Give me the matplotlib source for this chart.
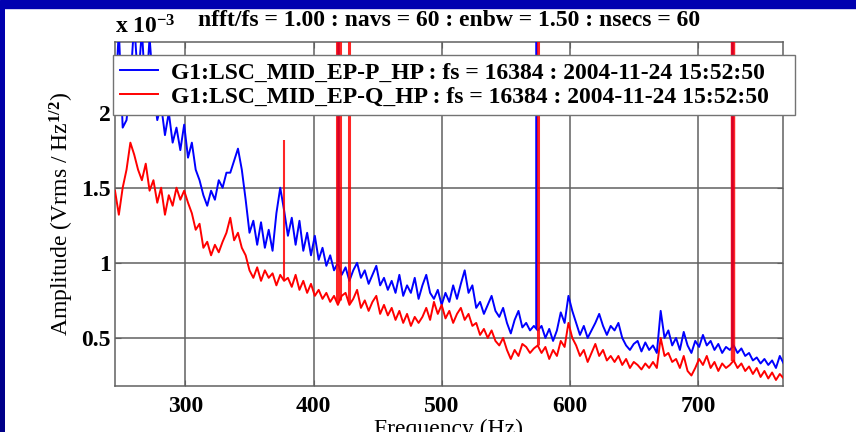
import numpy as np
import matplotlib
matplotlib.use("Agg")
import matplotlib.pyplot as plt
from matplotlib.patches import Rectangle

# ---------------- data (amplitude in units of 1e-3 Vrms/sqrt(Hz)) ----------------
freq_start, freq_stop, freq_step = 245, 767, 3
freq = np.arange(freq_start, freq_stop + 1, freq_step)

p_amp = [
    2.05, 2.55, 1.90, 1.95, 2.20, 2.60, 2.20, 2.55, 2.10, 2.50,   # 245-272
    2.15, 1.95, 2.05, 1.85, 2.00, 1.80, 1.90, 1.75, 1.92, 1.70,   # 275-302
    1.80, 1.62, 1.55, 1.45, 1.38, 1.48, 1.42, 1.55, 1.50, 1.60,   # 305-332
    1.60, 1.68, 1.76, 1.62, 1.42, 1.20, 1.28, 1.12, 1.27, 1.10,   # 335-362
    1.22, 1.08, 1.33, 1.50, 1.35, 1.18, 1.30, 1.12, 1.28, 1.08,   # 365-392
    1.20, 1.05, 1.18, 1.02, 1.10, 0.98, 1.05, 0.95, 1.00, 0.92,   # 395-422
    0.97, 0.88, 0.95, 1.00, 0.90, 0.95, 0.86, 0.92, 0.98, 0.85,   # 425-452
    0.90, 0.82, 0.88, 0.80, 0.92, 0.78, 0.85, 0.80, 0.90, 0.76,   # 455-482
    0.85, 0.92, 0.80, 0.76, 0.82, 0.72, 0.80, 0.74, 0.85, 0.76,   # 485-512
    0.86, 0.95, 0.80, 0.85, 0.70, 0.74, 0.66, 0.72, 0.78, 0.68,   # 515-542
    0.64, 0.70, 0.60, 0.53, 0.62, 0.68, 0.57, 0.60, 0.55, 0.58,   # 545-572
    0.55, 0.58, 0.50, 0.56, 0.48, 0.55, 0.67, 0.60, 0.78, 0.68,   # 575-602
    0.60, 0.52, 0.58, 0.50, 0.55, 0.60, 0.66, 0.58, 0.52, 0.58,   # 605-632
    0.55, 0.60, 0.50, 0.45, 0.42, 0.46, 0.48, 0.41, 0.47, 0.42,   # 635-662
    0.45, 0.40, 0.68, 0.50, 0.55, 0.45, 0.50, 0.42, 0.54, 0.45,   # 665-692
    0.40, 0.48, 0.44, 0.52, 0.45, 0.48, 0.42, 0.46, 0.40, 0.44,   # 695-722
    0.42, 0.45, 0.40, 0.43, 0.38, 0.40, 0.35, 0.37, 0.33, 0.36,   # 725-752
    0.32, 0.35, 0.30, 0.38, 0.33,                                 # 755-767
]

q_amp = [
    1.48, 1.32, 1.50, 1.62, 1.80, 1.72, 1.62, 1.55, 1.66, 1.48,   # 245-272
    1.55, 1.40, 1.50, 1.32, 1.45, 1.38, 1.50, 1.42, 1.48, 1.40,   # 275-302
    1.33, 1.22, 1.26, 1.10, 1.14, 1.05, 1.12, 1.07, 1.14, 1.20,   # 305-332
    1.30, 1.15, 1.20, 1.10, 1.05, 0.95, 0.90, 0.97, 0.88, 0.95,   # 335-362
    0.90, 0.93, 0.85, 0.92, 0.88, 0.90, 0.84, 0.92, 0.82, 0.88,   # 365-392
    0.80, 0.86, 0.78, 0.82, 0.76, 0.80, 0.74, 0.78, 0.72, 0.78,   # 395-422
    0.80, 0.72, 0.76, 0.82, 0.70, 0.75, 0.68, 0.74, 0.78, 0.66,   # 425-452
    0.72, 0.65, 0.70, 0.62, 0.68, 0.60, 0.66, 0.58, 0.64, 0.60,   # 455-482
    0.64, 0.70, 0.62, 0.74, 0.66, 0.72, 0.63, 0.68, 0.60, 0.66,   # 485-512
    0.70, 0.62, 0.66, 0.58, 0.60, 0.52, 0.56, 0.50, 0.55, 0.48,   # 515-542
    0.45, 0.50, 0.42, 0.36, 0.42, 0.38, 0.46, 0.44, 0.40, 0.43,   # 545-572
    0.45, 0.40, 0.44, 0.36, 0.42, 0.38, 0.48, 0.44, 0.60, 0.50,   # 575-602
    0.45, 0.38, 0.42, 0.34, 0.40, 0.46, 0.38, 0.42, 0.35, 0.38,   # 605-632
    0.34, 0.38, 0.32, 0.36, 0.30, 0.34, 0.32, 0.29, 0.33, 0.30,   # 635-662
    0.34, 0.30, 0.50, 0.38, 0.40, 0.34, 0.36, 0.30, 0.38, 0.28,   # 665-692
    0.25, 0.30, 0.36, 0.32, 0.38, 0.30, 0.34, 0.28, 0.33, 0.30,   # 695-722
    0.32, 0.35, 0.30, 0.33, 0.28, 0.31, 0.26, 0.30, 0.24, 0.28,   # 725-752
    0.23, 0.27, 0.22, 0.26, 0.23,                                 # 755-767
]

# narrow spectral lines (frequency in Hz, peak amplitude in 1e-3)
p_line_freq = [419.0, 573.5, 727.0]
p_line_amp = [5.0, 5.0, 5.0]
q_line_freq = [377.0, 418.0, 420.5, 427.5, 575.0, 727.5]
q_line_amp = [1.82, 5.0, 5.0, 5.0, 5.0, 5.0]
q_line_width = [1.5, 2.2, 2.2, 2.2, 2.2, 3.2]

p_label = "G1:LSC_MID_EP-P_HP : fs = 16384 : 2004-11-24 15:52:50"
q_label = "G1:LSC_MID_EP-Q_HP : fs = 16384 : 2004-11-24 15:52:50"
title_text = "nfft/fs = 1.00 : navs = 60 : enbw = 1.50 : nsecs = 60"
x_ticks = [300, 400, 500, 600, 700]
y_ticks = [0.5, 1, 1.5, 2]
y_ticklabels = ["0.5", "1", "1.5", "2"]

# ---------------- style ----------------
plt.rcParams["font.family"] = ["Liberation Serif", "DejaVu Serif"]
plt.rcParams["font.weight"] = "bold"
plt.rcParams["mathtext.fontset"] = "custom"
plt.rcParams["mathtext.rm"] = "Liberation Serif:bold"
plt.rcParams["mathtext.it"] = "Liberation Serif:italic:bold"
plt.rcParams["mathtext.bf"] = "Liberation Serif:bold"

FS = 17
W, H = 856, 432
fig = plt.figure(figsize=(W / 100, H / 100), dpi=100, facecolor="white")

# slide frame (top and left blue bands)
fig.patches.append(Rectangle((0, 1 - 7.5 / H), 1, 7.5 / H, transform=fig.transFigure,
                             color="#0000B0", zorder=10))
grad_ax = fig.add_axes([0, 0, 4.5 / W, 1 - 7.5 / H])
grad_ax.imshow(np.linspace(0, 1, 100).reshape(-1, 1), aspect="auto",
               cmap=matplotlib.colors.LinearSegmentedColormap.from_list("b", ["#0000B0", "#000088"]),
               extent=[0, 1, 0, 1])
grad_ax.set_axis_off()

ax = fig.add_axes([115 / W, (H - 386) / H, (783 - 115) / W, (386 - 42) / H])

grid_col = "0.38"
ax.plot(freq, p_amp, color="blue", lw=1.4, zorder=3, label=p_label)
ax.plot(freq, q_amp, color="red", lw=1.4, zorder=4, label=q_label)

p_base = np.interp(p_line_freq, freq, p_amp)
q_base = np.interp(q_line_freq, freq, q_amp)
ax.vlines(p_line_freq, p_base, p_line_amp, color="blue", lw=1.8, zorder=3)
ax.vlines(q_line_freq, q_base, q_line_amp, color="red", lw=q_line_width, zorder=4, alpha=0.85)

ax.set_xlim(245, 766.5)
ax.set_ylim(0.18, 2.47)
ax.set_xticks(x_ticks)
ax.set_yticks(y_ticks)
ax.set_yticklabels(y_ticklabels)
ax.grid(True, color=grid_col, lw=1.1, ls="-")
ax.set_axisbelow(True)
for s in ax.spines.values():
    s.set_color(grid_col)
    s.set_linewidth(1.1)
ax.tick_params(direction="in", length=4, color=grid_col, labelsize=FS,
               top=True, right=True)
ax.tick_params(axis="x", pad=7)
ax.tick_params(axis="y", pad=3)

ax.set_xlabel("Frequency (Hz)", fontsize=FS)
ax.xaxis.set_label_coords(0.5, -0.095)
ax.set_ylabel("Amplitude (Vrms / Hz$^{1/2}$)", fontsize=FS)
ax.yaxis.set_label_coords(-0.058, 0.5)

fig.text(449 / W, 1 - 21 / H, title_text, ha="center", va="center", fontsize=FS)
fig.text(115 / W, 1 - 34 / H, "x 10$^{-3}$", ha="left", va="baseline", fontsize=FS)

leg = ax.legend(loc="upper left", mode="expand",
                bbox_to_anchor=(113 / W, (H - 112) / H, (795 - 113) / W, (112 - 55) / H),
                bbox_transform=fig.transFigure, borderaxespad=0, fontsize=FS,
                frameon=True, fancybox=False, framealpha=1, edgecolor="0.45",
                handlelength=1.6, handletextpad=0.55, labelspacing=0.1,
                borderpad=0.3)
leg.get_frame().set_linewidth(1.0)
leg.set_zorder(20)

fig.savefig("out.png", dpi=100, facecolor="white")
